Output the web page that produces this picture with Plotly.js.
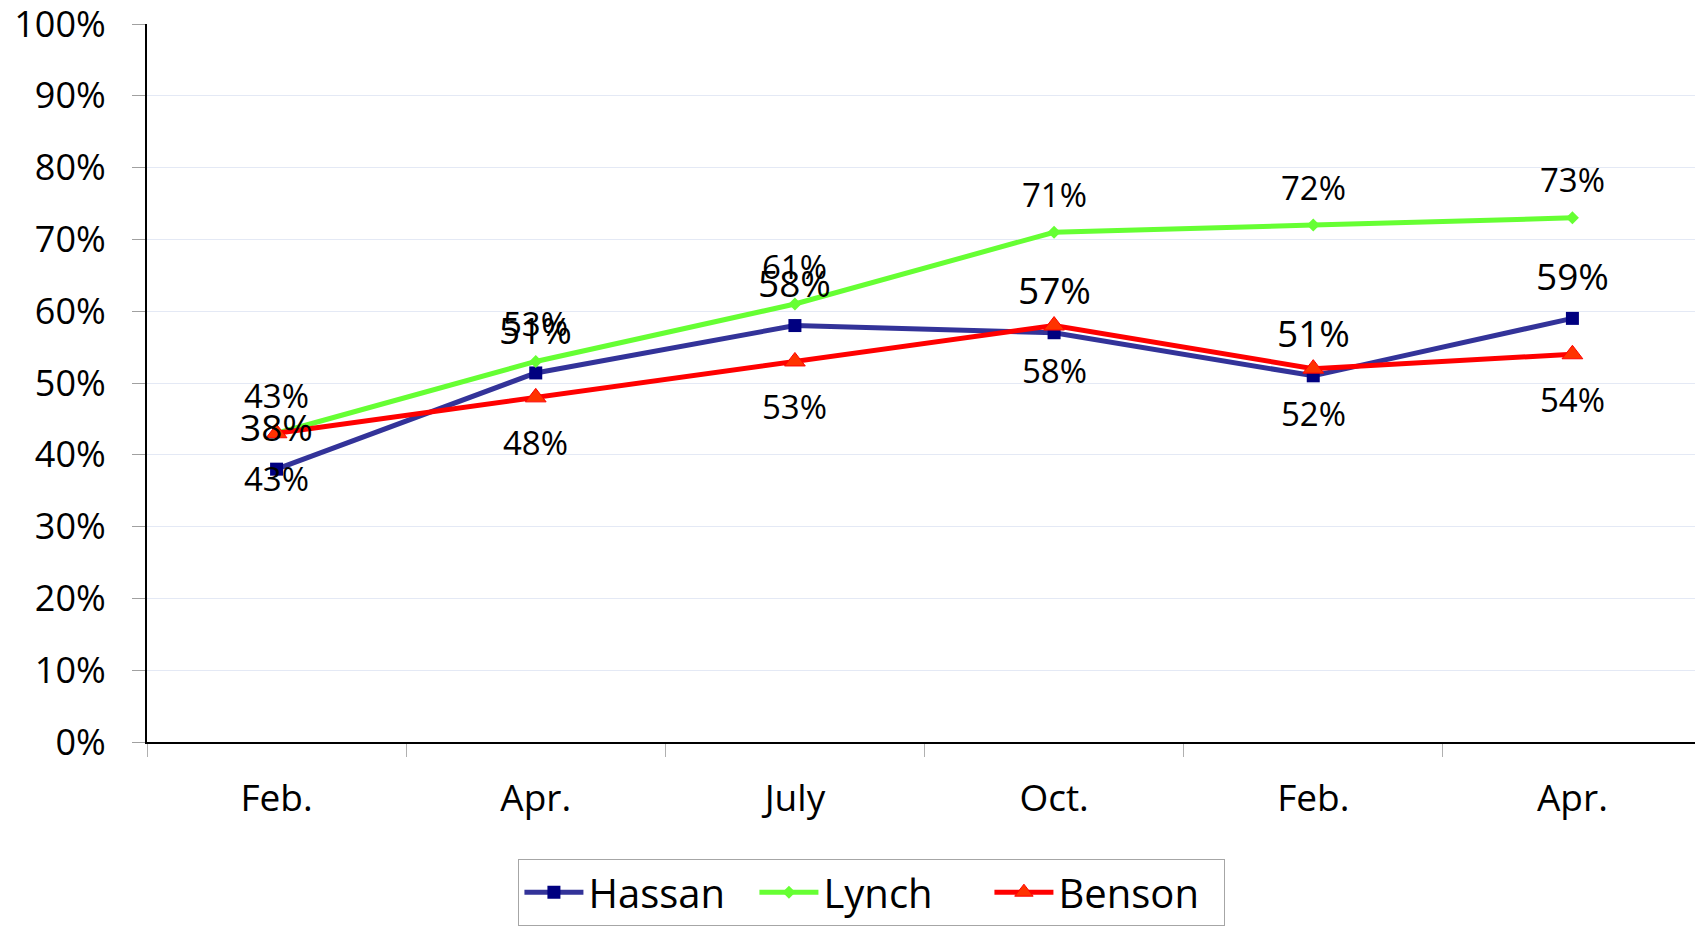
<!DOCTYPE html>
<html>
<head>
<meta charset="utf-8">
<script src="https://cdn.plot.ly/plotly-3.0.1.min.js"></script>
<style>
  html, body { margin: 0; padding: 0; background: #ffffff; }
  #chart { width: 1695px; height: 930px; }
</style>
</head>
<body>
<div id="chart"></div>
<script>
// ---- data ----
const months = ['Feb.', 'Apr.', 'July', 'Oct.', 'Feb.', 'Apr.'];
const seriesNames = ['Hassan', 'Lynch', 'Benson'];
const hassan = [0.38, 0.514, 0.58, 0.57, 0.51, 0.59];
const lynch  = [0.43, 0.53, 0.61, 0.71, 0.72, 0.73];
const benson = [0.43, 0.48, 0.53, 0.58, 0.52, 0.54];
const hassanLabels = ['38%', '51%', '58%', '57%', '51%', '59%'];
const lynchLabels  = ['43%', '53%', '61%', '71%', '72%', '73%'];
const bensonLabels = ['43%', '48%', '53%', '58%', '52%', '54%'];
const yTickVals = [0, 0.1, 0.2, 0.3, 0.4, 0.5, 0.6, 0.7, 0.8, 0.9, 1];
const yTickText = ['0%', '10%', '20%', '30%', '40%', '50%', '60%', '70%', '80%', '90%', '100%'];

const FONT = '"Open Sans", "Noto Sans", sans-serif';
const xIdx = months.map((m, i) => i);

const traces = [
  {
    name: seriesNames[0], x: xIdx, y: hassan, type: 'scatter', mode: 'lines+markers',
    line: { color: '#333399', width: 5 },
    marker: { symbol: 'square', size: 13, color: '#000080' }
  },
  {
    name: seriesNames[1], x: xIdx, y: lynch, type: 'scatter', mode: 'lines+markers',
    line: { color: '#66ff33', width: 5 },
    marker: { symbol: 'diamond', size: 10, color: '#66ff33' }
  },
  {
    name: seriesNames[2], x: xIdx, y: benson, type: 'scatter', mode: 'lines+markers',
    line: { color: '#ff0000', width: 5 },
    marker: { symbol: 'triangle-up', size: 18, color: '#ff3300', line: { color: '#ff0000', width: 1 } }
  }
];

const annotations = [];
function addLabels(vals, labels, shift, size) {
  vals.forEach((v, i) => {
    annotations.push({
      x: xIdx[i], y: v, xref: 'x', yref: 'y', text: labels[i], showarrow: false,
      yshift: shift, xanchor: 'center', yanchor: 'middle',
      font: { family: FONT, size: size, color: '#000000' }
    });
  });
}
addLabels(lynch, lynchLabels, 38, 33);
addLabels(hassan, hassanLabels, 43, 37);
addLabels(benson, bensonLabels, -45, 33);

const layout = {
  width: 1695, height: 930,
  margin: { l: 147, r: 0, t: 24, b: 188, pad: 0 },
  paper_bgcolor: '#ffffff', plot_bgcolor: '#ffffff',
  font: { family: FONT, color: '#000000' },
  showlegend: true,
  legend: {
    orientation: 'h', x: 0.4683, xanchor: 'center', y: -0.1625, yanchor: 'top',
    font: { family: FONT, size: 40, color: '#000000' },
    bordercolor: '#a6a6a6', borderwidth: 1, bgcolor: '#ffffff',
    itemwidth: 59, entrywidth: 161
  },
  xaxis: {
    range: [-0.5, 5.473], tickmode: 'array', tickvals: xIdx, ticktext: months,
    ticks: '', showgrid: false, zeroline: false,
    showline: true, linecolor: '#000000', linewidth: 2,
    tickfont: { family: FONT, size: 37, color: '#000000' },
    ticklabelstandoff: 23,
    minor: { tick0: 0.5, dtick: 1, ticks: 'outside', ticklen: 13, tickcolor: '#b0b0b0', tickwidth: 1, showgrid: false }
  },
  yaxis: {
    range: [0, 1], tickmode: 'array', tickvals: yTickVals, ticktext: yTickText,
    ticks: 'outside', ticklen: 13, tickcolor: '#a0a0a0', tickwidth: 1,
    showgrid: true, gridcolor: '#e4e9f5', gridwidth: 1, zeroline: false,
    showline: true, linecolor: '#000000', linewidth: 2,
    tickfont: { family: FONT, size: 36, color: '#000000' },
    ticklabelstandoff: 19, ticklabeloverflow: 'allow'
  },
  annotations: annotations
};

Plotly.newPlot('chart', traces, layout, { displayModeBar: false, staticPlot: true });
</script>
</body>
</html>
